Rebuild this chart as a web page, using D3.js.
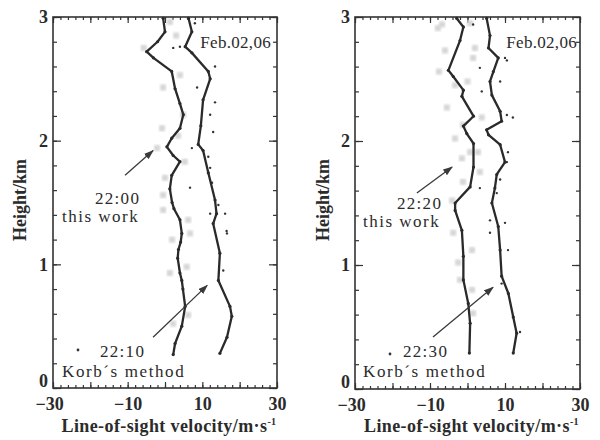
<!DOCTYPE html>
<html>
<head>
<meta charset="utf-8">
<script src="https://cdn.jsdelivr.net/npm/d3@7"></script>
<style>
  body { margin: 0; background: #fff; }
  text { font-family: "Liberation Serif", "DejaVu Serif", serif; fill: #2b2b2b; }
</style>
</head>
<body>
<div class="chart"></div>
<script>
// values, each point is [velocity m/s, height km]
const thisWork2200 = [[-0.5,2.99],[0.0,2.88],[-2.0,2.80],[-4.9,2.72],[-3.1,2.67],[1.8,2.56],[2.7,2.42],[4.0,2.30],[4.9,2.21],[4.0,2.10],
  [1.8,2.02],[0.5,1.95],[2.2,1.88],[4.0,1.83],[1.8,1.72],[1.3,1.61],[1.9,1.50],[2.4,1.45],[4.0,1.36],[4.5,1.25],[4.2,1.18],[3.6,1.12],
  [3.4,1.05],[4.0,0.93],[4.5,0.87],[4.8,0.80],[5.4,0.66],[4.5,0.50],[2.7,0.36],[2.2,0.27]];
const korb2210 = [[6.3,2.99],[7.2,2.88],[5.4,2.76],[7.2,2.71],[11.6,2.56],[12.1,2.50],[10.2,2.33],[9.6,2.12],[8.9,1.97],[10.2,1.92],
  [11.6,1.74],[13.4,1.52],[13.8,1.41],[12.9,1.33],[14.7,1.09],[14.3,0.87],[17.4,0.66],[17.9,0.58],[16.6,0.41],[14.7,0.28]];
const squares2200 = [[-5.7,2.75],[1.3,2.96],[-0.5,2.43],[4.0,2.53],[4.9,2.21],[-0.8,2.10],[3.5,2.04],[-2.1,1.94],[0.0,1.70],[5.3,1.83],
  [-0.5,1.56],[-0.5,1.44],[6.2,1.36],[1.9,1.20],[6.7,1.25],[1.3,0.93],[5.8,0.98],[6.2,0.59],[2.2,0.52],[3.0,2.85]];
const dots2210 = [[2.2,2.75],[4.0,2.76],[13.4,2.60],[8.6,2.43],[13.4,2.31],[12.1,2.21],[12.9,2.07],[7.2,1.94],[11.6,1.87],[12.1,1.78],
  [6.7,1.62],[12.6,1.66],[14.3,1.48],[16.1,1.41],[12.1,1.41],[16.6,1.25],[15.6,0.95],[16.5,1.27],[8.0,2.95]];

const thisWork2220 = [[-2.9,2.99],[-1.1,2.92],[-2.0,2.81],[-5.1,2.57],[-3.8,2.52],[-1.1,2.41],[-1.5,2.36],[1.6,2.20],[-1.1,2.12],[-0.2,2.06],
  [1.6,1.98],[1.6,1.79],[0.7,1.63],[-3.3,1.50],[-3.3,1.44],[-1.5,1.28],[-1.1,1.07],[-1.1,0.88],[0.2,0.69],[0.7,0.53],[0.5,0.29]];
const korb2230 = [[5.1,2.99],[6.0,2.85],[5.6,2.75],[8.2,2.67],[6.9,2.56],[6.0,2.48],[6.5,2.37],[8.7,2.24],[9.1,2.16],[5.1,2.09],[5.6,2.05],
  [8.7,1.97],[10.0,1.83],[7.8,1.73],[7.3,1.62],[6.5,1.50],[8.2,1.31],[8.7,1.12],[9.1,0.91],[10.9,0.77],[12.2,0.58],[13.1,0.45],[12.2,0.29]];
const squares2220 = [[-6.8,2.94],[-7.9,2.91],[0.7,2.95],[-6.0,2.73],[2.0,2.75],[1.5,2.67],[-7.6,2.56],[-3.3,2.45],[0.0,2.48],[-5.5,2.27],
  [3.8,2.19],[-1.2,2.13],[-3.3,2.02],[0.7,1.91],[2.8,1.91],[-1.5,1.86],[3.3,1.75],[-1.2,1.67],[-4.1,1.52],[-3.8,1.26],[1.2,1.12],
  [-2.5,1.02],[-2.0,0.88],[1.2,0.80],[1.5,0.61]];
const dots2230 = [[1.5,2.94],[10.0,2.67],[10.5,2.65],[3.3,2.59],[8.7,2.48],[3.8,2.40],[10.5,2.21],[12.1,2.19],[10.8,1.91],[10.5,1.83],
  [8.7,1.69],[3.3,1.62],[7.8,1.58],[6.0,1.36],[10.0,1.34],[6.0,1.26],[10.8,1.12],[9.1,0.85],[14.0,0.46]];

const xTicks = [-30, -10, 10, 30];
const yTicks = [0, 1, 2, 3];
const dateLabel = "Feb.02,06";

const width = 600;
const height = 440;

const svg = d3.select(".chart")
    .append("svg")
    .attr("width", width)
    .attr("height", height);

const defs = svg.append("defs");
//arrow head
defs.append("marker")
    .attr("id", "arrow")
    .attr("viewBox", "0 0 10 7")
    .attr("refX", 9).attr("refY", 3.5)
    .attr("markerWidth", 10).attr("markerHeight", 7)
    .attr("markerUnits", "userSpaceOnUse")
    .attr("orient", "auto")
    .append("path")
    .attr("d", "M0,0 L10,3.5 L0,7 z")
    .style("fill", "#3a3a3a");
//the grey squares look smudged in the scan
defs.append("filter").attr("id", "soft")
    .append("feGaussianBlur").attr("stdDeviation", 0.8);

const panels = [
    {left: 53, right: 277, top: 17, bottom: 388, line1: thisWork2200, line2: korb2210, squares: squares2200, dots: dots2210,
     time1: "22:00", time2: "22:10", t1: [95, 204], w1: [62, 222], t2: [100, 357], w2: [62, 377], dot: [78, 350],
     arrow1: [[-10.7, 1.72], [-3.2, 1.92]], arrow2: [[-3.2, 0.41], [11.3, 0.83]], yTitleX: 26, dateEnd: 271},
    {left: 355, right: 580, top: 17, bottom: 389, line1: thisWork2220, line2: korb2230, squares: squares2220, dots: dots2230,
     time1: "22:20", time2: "22:30", t1: [397, 209], w1: [363, 227], t2: [403, 357], w2: [363, 377], dot: [390, 354],
     arrow1: [[-13.5, 1.58], [-4.1, 1.79]], arrow2: [[-9.2, 0.42], [6.8, 0.82]], yTitleX: 329, dateEnd: 577}
];

panels.forEach(p => {
    const xScale = d3.scaleLinear().domain([-30, 30]).range([p.left, p.right]);
    const yScale = d3.scaleLinear().domain([0, 3]).range([p.bottom, p.top]);
    const g = svg.append("g");

    //minor and major ticks, all pointing inside
    const minorX = d3.range(-30, 31, 2), majorX = d3.range(-30, 31, 10);
    const minorY = d3.range(0, 3.01, 0.2).map(d => +d.toFixed(1)), majorY = yTicks;
    const tickGroups = [
        [d3.axisBottom(xScale).tickValues(minorX).tickSize(-3), `translate(0,${p.bottom})`],
        [d3.axisBottom(xScale).tickValues(majorX).tickSize(-6), `translate(0,${p.bottom})`],
        [d3.axisTop(xScale).tickValues(minorX).tickSize(-3), `translate(0,${p.top})`],
        [d3.axisTop(xScale).tickValues(majorX).tickSize(-6), `translate(0,${p.top})`],
        [d3.axisLeft(yScale).tickValues(minorY).tickSize(-4), `translate(${p.left},0)`],
        [d3.axisLeft(yScale).tickValues(majorY).tickSize(-8), `translate(${p.left},0)`],
        [d3.axisRight(yScale).tickValues(minorY).tickSize(-4), `translate(${p.right},0)`],
        [d3.axisRight(yScale).tickValues(majorY).tickSize(-8), `translate(${p.right},0)`]
    ];
    tickGroups.forEach(([ax, tr]) => {
        const a = g.append("g").attr("transform", tr).call(ax.tickFormat(""));
        a.select(".domain").remove();
        a.selectAll("line").style("stroke", "#333").style("stroke-width", 1.2);
    });

    //tick labels
    const xl = g.append("g").attr("transform", `translate(0,${p.bottom})`)
        .call(d3.axisBottom(xScale).tickValues(xTicks).tickSize(0).tickPadding(9)
            .tickFormat(d => d < 0 ? "\u2212" + Math.abs(d) : d));
    const yl = g.append("g").attr("transform", `translate(${p.left},0)`)
        .call(d3.axisLeft(yScale).tickValues(yTicks).tickSize(0).tickPadding(5).tickFormat(d3.format("d")));
    [xl, yl].forEach(a => {
        a.select(".domain").remove();
        a.selectAll("text").style("font-family", "Liberation Serif").style("font-size", "18px")
            .style("font-weight", "bold").style("fill", "#2b2b2b");
    });
    xl.selectAll("text").attr("dx", d => d === -30 ? -4 : 0);
    yl.selectAll("text").attr("y", d => d === 0 ? -7 : 0);

    //frame
    g.append("rect")
        .attr("x", p.left).attr("y", p.top)
        .attr("width", p.right - p.left).attr("height", p.bottom - p.top)
        .style("fill", "none").style("stroke", "#333").style("stroke-width", 1.6);

    //grey squares
    g.selectAll(".sq")
        .data(p.squares)
        .enter()
        .append("rect")
        .attr("x", d => xScale(d[0]) - 3)
        .attr("y", d => yScale(d[1]) - 3)
        .attr("width", 6).attr("height", 6)
        .attr("filter", "url(#soft)")
        .style("fill", "#d6d6d6");

    //small black dots
    g.selectAll(".dot")
        .data(p.dots)
        .enter()
        .append("circle")
        .attr("cx", d => xScale(d[0]))
        .attr("cy", d => yScale(d[1]))
        .attr("r", 1.2)
        .style("fill", "#333");

    const line = d3.line()
        .x(d => xScale(d[0]))
        .y(d => yScale(d[1]));

    [p.line1, p.line2].forEach(s => {
        g.append("path")
            .datum(s)
            .attr("d", line)
            .style("fill", "none")
            .style("stroke", "#2a2a2a")
            .style("stroke-width", 2.3)
            .style("stroke-linejoin", "round");
        //the curves are printed as strings of dots, so mark every read point
        g.selectAll(null)
            .data(s)
            .enter()
            .append("circle")
            .attr("cx", d => xScale(d[0]))
            .attr("cy", d => yScale(d[1]))
            .attr("r", 1.6)
            .style("fill", "#2a2a2a");
    });

    //annotations
    [p.arrow1, p.arrow2].forEach(a => {
        g.append("line")
            .attr("x1", xScale(a[0][0])).attr("y1", yScale(a[0][1]))
            .attr("x2", xScale(a[1][0])).attr("y2", yScale(a[1][1]))
            .style("stroke", "#3a3a3a").style("stroke-width", 1.3)
            .attr("marker-end", "url(#arrow)");
    });
    const note = (pos, txt, size, sp) => g.append("text")
        .attr("x", pos[0]).attr("y", pos[1])
        .style("font-size", size + "px")
        .style("letter-spacing", sp + "px")
        .text(txt);
    note(p.t1, p.time1, 17, 1.3);
    note(p.w1, "this work", 17, 1.5);
    note(p.t2, p.time2, 17, 1.3);
    note(p.w2, "Korb\u00b4s method", 17, 1.6);
    g.append("circle").attr("cx", p.dot[0]).attr("cy", p.dot[1]).attr("r", 1.4).style("fill", "#333");

    g.append("text")
        .attr("x", p.dateEnd).attr("y", 48)
        .attr("text-anchor", "end")
        .style("font-size", "17px")
        .style("letter-spacing", "0.3px")
        .text(dateLabel);

    //axis titles
    const xt = g.append("text")
        .attr("x", (p.left + p.right) / 2 + 4).attr("y", 432)
        .attr("text-anchor", "middle")
        .style("font-size", "18px").style("font-weight", "bold")
        .style("letter-spacing", "0.4px");
    xt.append("tspan").text("Line-of-sight velocity/m\u00b7s");
    xt.append("tspan").attr("dy", -7).style("font-size", "10px").text("-1");

    g.append("text")
        .attr("transform", `translate(${p.yTitleX},200) rotate(-90)`)
        .attr("text-anchor", "middle")
        .style("font-size", "18px").style("font-weight", "bold")
        .text("Height/km");
});
</script>
</body>
</html>
